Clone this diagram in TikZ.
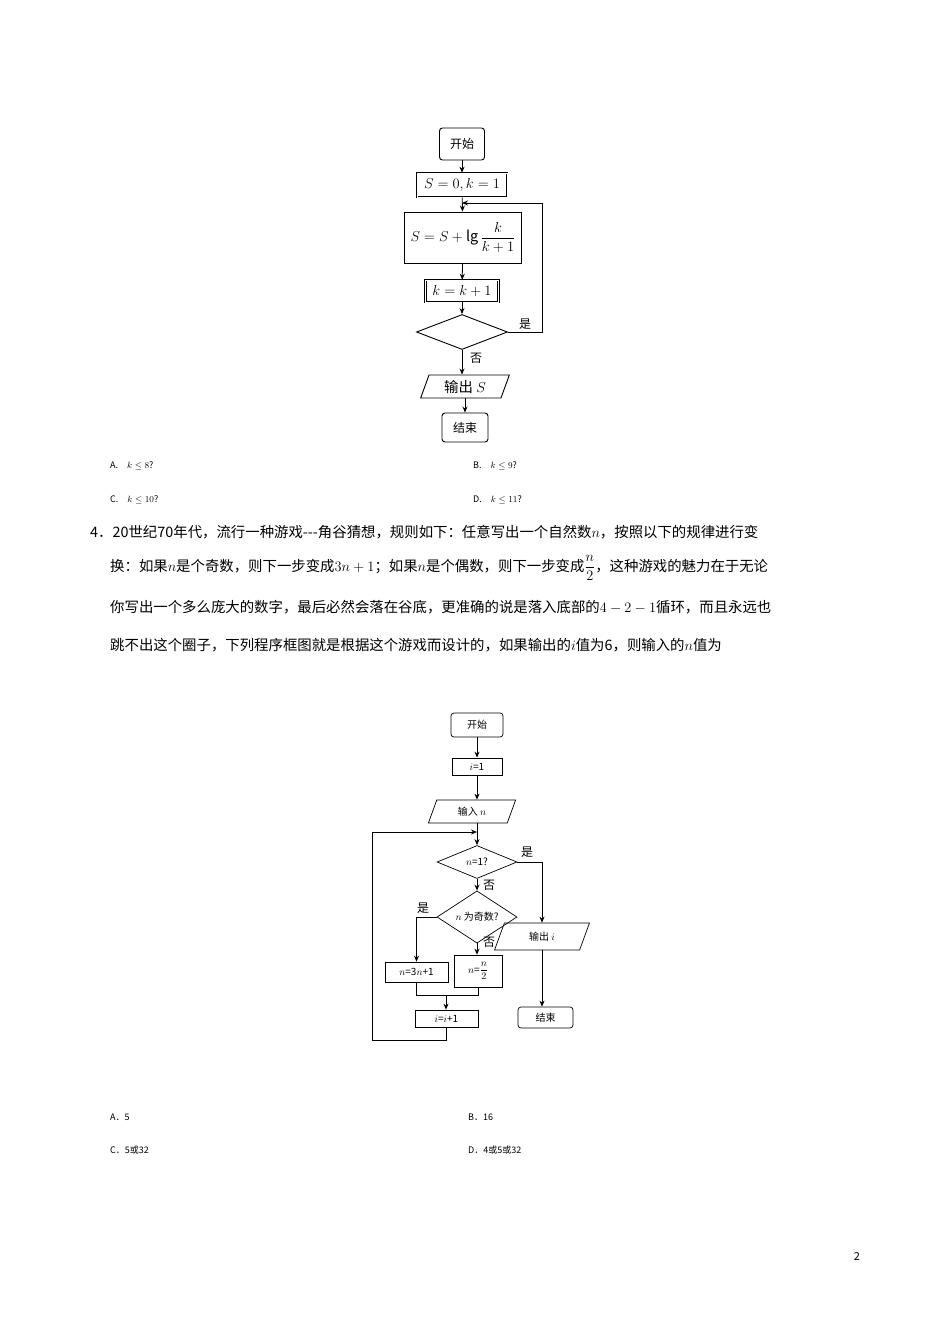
\documentclass[tikz,border=0pt]{standalone}
\usepackage{amsmath}
\usepackage{fontspec}
\setmainfont{Noto Sans CJK SC}
\usetikzlibrary{shapes.geometric,arrows.meta}
\XeTeXlinebreaklocale "zh"
\XeTeXlinebreakskip=0pt plus 3pt
\newcommand{\mh}[1]{\hbox{$#1$}}
\begin{document}
\begin{tikzpicture}[x=1pt,y=-1pt,
  fc/.style={draw,line width=0.9pt,inner sep=0pt,font=\fontsize{12}{13}\selectfont},
  rbox/.style={fc,rounded corners=3pt},
  dbox/.style={fc,double,double distance=1pt,line width=0.6pt},
  dia/.style={fc,diamond},
  para/.style={fc,trapezium,trapezium left angle=70,trapezium right angle=-70},
  arr/.style={-{Stealth[length=6pt,width=5pt]},line width=0.8pt},
  ln/.style={line width=0.8pt},
  lab/.style={font=\fontsize{12}{13}\selectfont},
  big/.style={font=\fontsize{14.4}{16}\selectfont},
  opt/.style={anchor=west,inner sep=0pt,font=\fontsize{14.4}{16}\selectfont},
  txt/.style={anchor=west,inner sep=0pt,font=\fontsize{14.4}{18}\selectfont}]
\useasboundingbox (0,0) rectangle (950,1344);
\fill[white] (0,0) rectangle (950,1344);
% chart 1
\node[rbox,minimum width=45,minimum height=32] (s1) at (462,144) {开始};
\node[dbox,minimum width=90,minimum height=24,big] (a1) at (462,185) {$S=0,k=1$};
\node[fc,minimum width=117,minimum height=51,big] (b1) at (463,237.5) {$S=S+\lg\dfrac{k}{k+1}$};
\node[dbox,minimum width=73,minimum height=22,big] (c1) at (462,291) {$k=k+1$};
\node[dia,minimum width=91,minimum height=35] (d1) at (462,332) {};
\node[para,minimum width=70,minimum height=23,big] (o1) at (465,386.5) {输出 $S$};
\node[rbox,minimum width=46,minimum height=29] (e1) at (465,427.5) {结束};
\coordinate (j1) at (462,203);
\coordinate (r1) at (542,332);
\draw[arr] (s1) -- (a1);
\draw[arr] (a1) -- (b1);
\draw[arr] (b1) -- (c1);
\draw[arr] (c1) -- (d1);
\draw[arr] (d1.south) -- (d1.south|-o1.north);
\draw[arr] (o1.south-|e1) -- (e1);
\draw[ln] (d1.east) -- (r1) -- (r1|-j1);
\draw[arr] (r1|-j1) -- (j1);
\node[lab] at (525,324) {是};
\node[lab] at (476,358) {否};
% options
\node[opt] at (110,466) {\small A.\quad $k\le 8$?};
\node[opt] at (473,466) {\small B.\quad $k\le 9$?};
\node[opt] at (110,500) {\small C.\quad $k\le 10$?};
\node[opt] at (473,500) {\small D.\quad $k\le 11$?};
% paragraph
\node[txt] at (90,532) {\hbox to 772pt{4．20世纪70年代，流行一种游戏{-}{-}{-}角谷猜想，规则如下：任意写出一个自然数\mh{n}，按照以下的规律进行变}};
\node[txt] at (110,568) {\hbox to 752pt{换：如果\mh{n}是个奇数，则下一步变成\mh{3n+1}；如果\mh{n}是个偶数，则下一步变成\mh{\dfrac{n}{2}}，这种游戏的魅力在于无论}};
\node[txt] at (110,607) {\hbox to 752pt{你写出一个多么庞大的数字，最后必然会落在谷底，更准确的说是落入底部的\mh{4-2-1}循环，而且永远也}};
\node[txt] at (110,645) {\hbox to 735pt{跳不出这个圈子，下列程序框图就是根据这个游戏而设计的，如果输出的\mh{i}值为6，则输入的\mh{n}值为}};
% chart 2
\tikzset{fc/.append style={line width=0.7pt,font=\fontsize{10}{11}\selectfont}}
\node[rbox,minimum width=52,minimum height=24] (s2) at (477,725) {开始};
\node[fc,minimum width=50,minimum height=17] (a2) at (477,766.5) {$i$=1};
\node[para,minimum width=70,minimum height=23] (in2) at (472,811.5) {输入 $n$};
\node[dia,minimum width=80,minimum height=33] (d2) at (477,862) {$n$=1?};
\node[dia,minimum width=80,minimum height=35] (d3) at (477,917) {$n$ 为奇数?};
\node[para,minimum width=50,minimum height=27] (o2) at (542,936.5) {输出 $i$};
\node[fc,minimum width=63,minimum height=20] (b3) at (416.5,972) {$n$=3$n$+1};
\node[fc,minimum width=48,minimum height=32] (b2) at (478,971) {$n$=$\dfrac{n}{2}$};
\node[fc,minimum width=63,minimum height=17] (b4) at (446.5,1018.5) {$i$=$i$+1};
\node[rbox,minimum width=55,minimum height=21] (e2) at (545.5,1017.5) {结束};
\coordinate (j2) at (477,832);
\coordinate (m2) at (446,995);
\coordinate (lp) at (372,1040);
\draw[arr] (s2) -- (a2);
\draw[arr] (a2) -- (in2.north-|a2);
\draw[arr] (in2.south-|d2) -- (d2);
\draw[arr] (d2) -- (d3);
\draw[arr] (d3.south) -- (d3.south|-b2.north);
\draw[arr] (d2.east) -| (o2.north);
\draw[arr] (o2.south) -- (o2.south|-e2.north);
\draw[arr] (d3.west) -| (b3.north);
\draw[ln] (b3.south) |- (m2) -| (b2.south);
\draw[arr] (m2) -- (m2|-b4.north);
\draw[ln] (b4.south) |- (lp) -- (lp|-j2);
\draw[arr] (lp|-j2) -- (j2);
\node[lab] at (527,852) {是};
\node[lab] at (489,885) {否};
\node[lab] at (423,908) {是};
\node[lab] at (489,942) {否};
% options
\node[opt] at (110,1117) {\small A．5};
\node[opt] at (468,1117) {\small B．16};
\node[opt] at (110,1150) {\small C．5或32};
\node[opt] at (468,1150) {\small D．4或5或32};
\node[font=\fontsize{11}{12}\selectfont] (pg) at (857,1256) {2};
\end{tikzpicture}
\end{document}
